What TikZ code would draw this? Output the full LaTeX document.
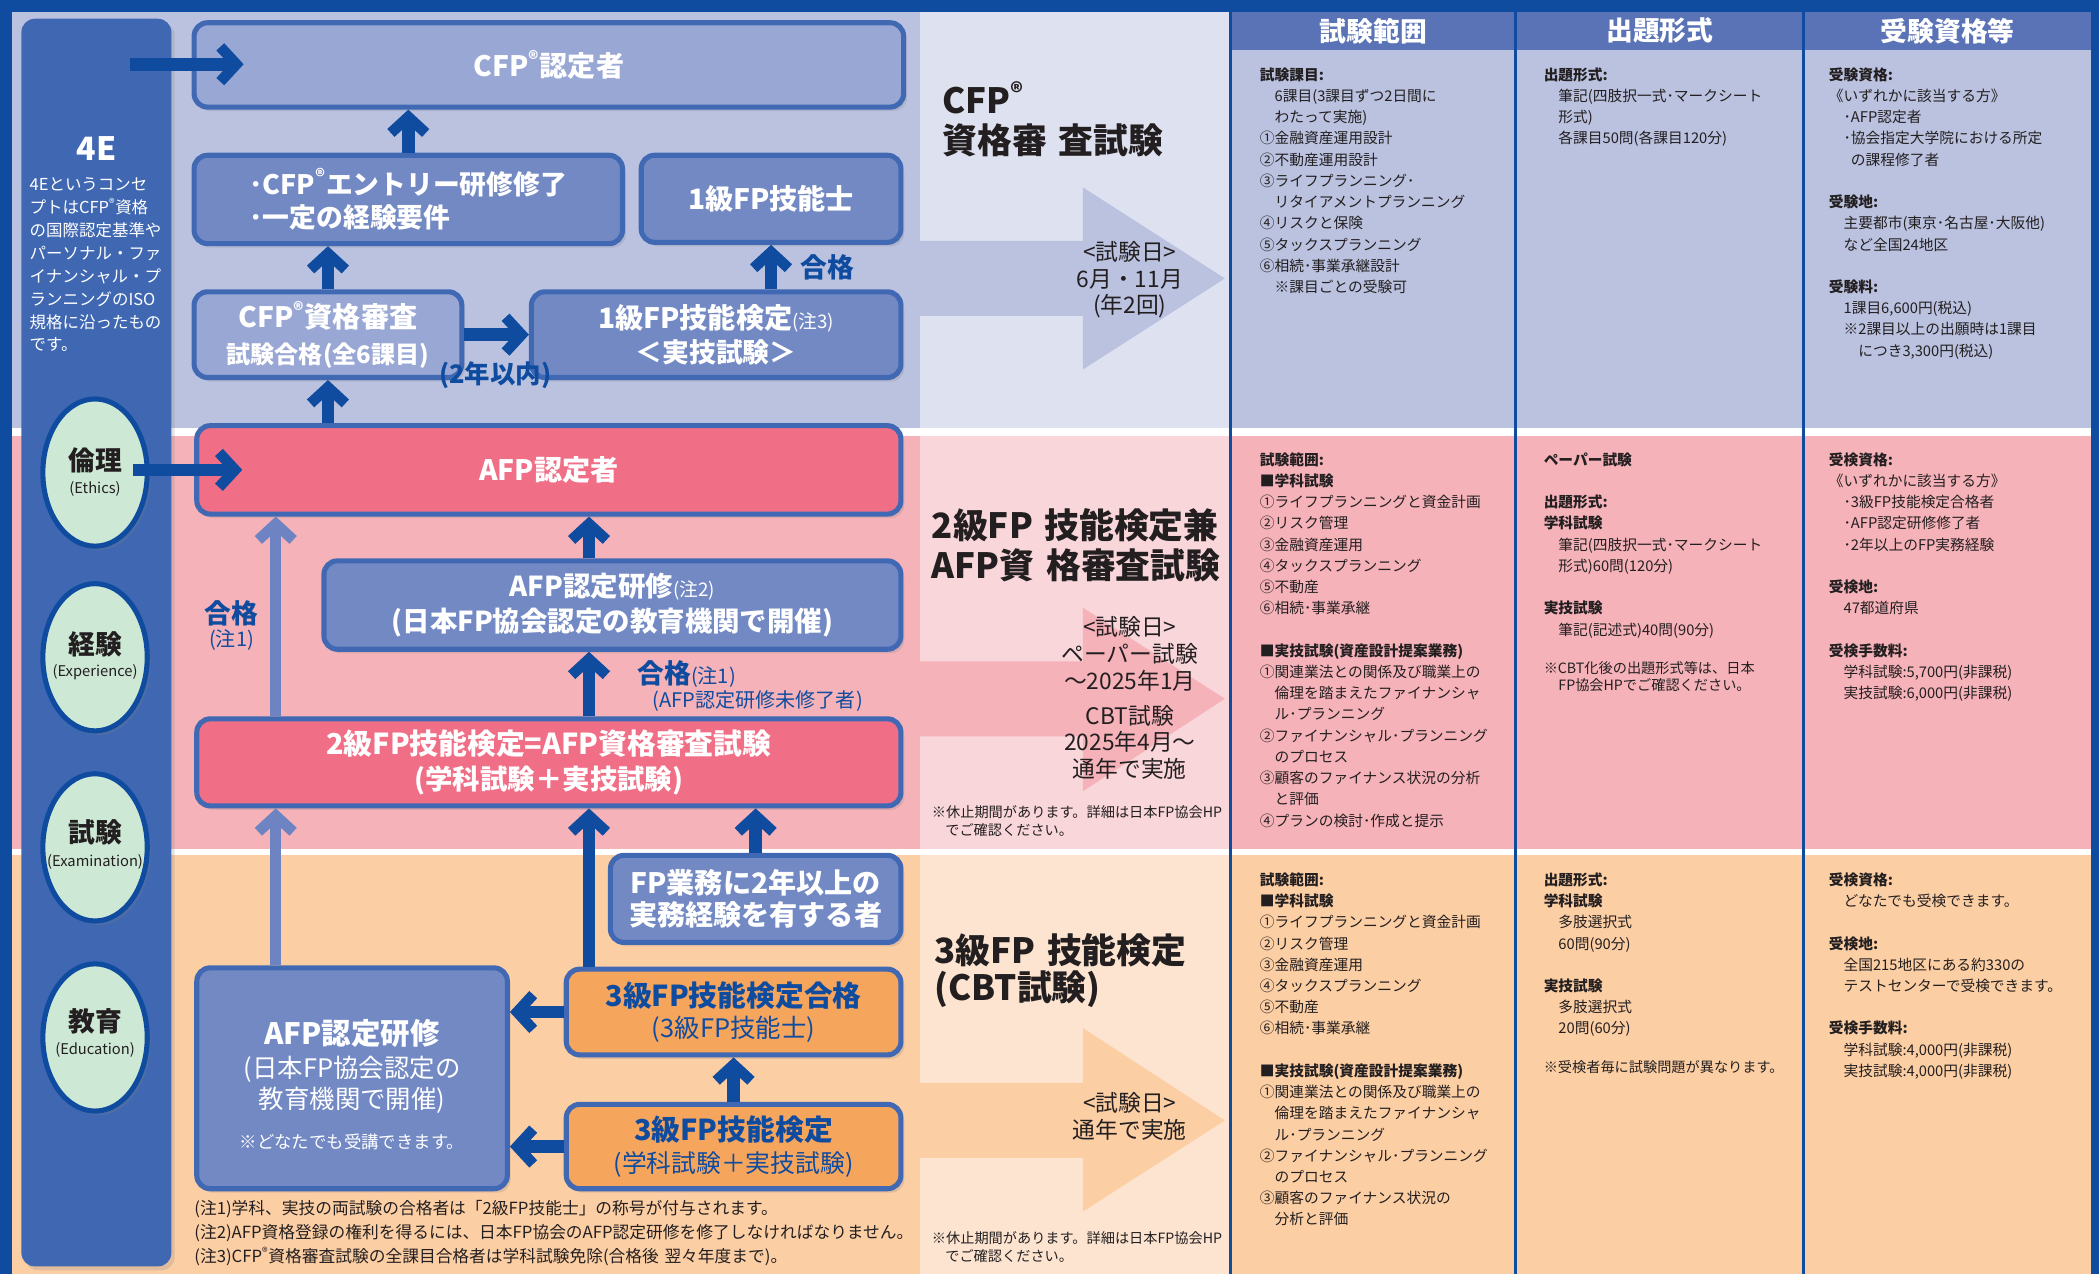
\documentclass[tikz,border=0pt]{standalone}
\usepackage{fontspec}
\setmainfont{Noto Sans CJK JP}
\usetikzlibrary{arrows.meta,shadows,shapes.geometric}
\definecolor{dkblue}{HTML}{0F4C9F}
\definecolor{panelc}{HTML}{4068B2}
\definecolor{bdrc}{HTML}{4169B3}
\definecolor{hdrc}{HTML}{5A72B6}
\definecolor{bandB}{HTML}{BAC2E0}
\definecolor{colB}{HTML}{DEE1F0}
\definecolor{boxL}{HTML}{99A7D5}
\definecolor{boxD}{HTML}{7389C4}
\definecolor{bandP}{HTML}{F5B2B9}
\definecolor{colP}{HTML}{F9D6DA}
\definecolor{boxP}{HTML}{F06F87}
\definecolor{bandO}{HTML}{FCCEA4}
\definecolor{colO}{HTML}{FDE4D1}
\definecolor{boxO}{HTML}{F6A55C}
\definecolor{mint}{HTML}{CDE8D5}
\definecolor{ltarr}{HTML}{6E84C2}
\definecolor{txtc}{HTML}{231F20}
\newcommand\fs[2]{\fontsize{#1}{#2}\selectfont}
\newcommand\sreg{\textsuperscript{®}}
\newcommand\myind{\hspace*{11pt}}
\begin{document}
\begin{tikzpicture}[x=1pt,y=-1pt,
  shd/.style={drop shadow={opacity=0.22,shadow xshift=2.5pt,shadow yshift=-3pt}},
  fbox/.style={rounded corners=10pt,line width=3.8pt,draw=bdrc,shd,inner sep=0pt,align=center,text=white},
  bL/.style={fbox,fill=boxL},
  bD/.style={fbox,fill=boxD},
  bP/.style={fbox,fill=boxP},
  bO/.style={fbox,fill=boxO,text=dkblue},
  darr/.style={draw=dkblue,line width=9.5pt,-{Straight Barb[length=12pt,width=26pt,line width=8pt]}},
  larr/.style={darr,draw=ltarr,line width=8.5pt},
  ell/.style={ellipse,draw=dkblue,line width=3.8pt,fill=mint,minimum width=78pt,minimum height=110pt,inner sep=0pt,shd},
  tbl/.style={inner sep=0pt,anchor=base west,text width=215pt,align=left,text=txtc,font=\fs{11}{15.85}},
  tnote/.style={inner sep=0pt,anchor=base west,text width=230pt,align=left,text=txtc,font=\fs{10.6}{13}},
  ttl/.style={inner sep=0pt,anchor=base west,text width=225pt,align=left,text=txtc,font=\fs{26}{30}\bfseries},
  dates/.style={inner sep=0pt,align=center,text=txtc,font=\fs{17}{20}},
  hdr/.style={inner sep=0pt,text=white,font=\fs{20}{20}\bfseries},
  lbl/.style={inner sep=0pt,text=dkblue,font=\fs{20}{20}\bfseries},
  etxt/.style={inner sep=0pt,text=txtc,font=\fs{20}{20}\bfseries},
  esub/.style={inner sep=0pt,text=txtc,font=\fs{11}{11}}
]
\useasboundingbox (0,0) rectangle (1568,952);
\fill[white] (0,0) rectangle (1568,952);
% bands
\fill[bandB] (9,9) rectangle (1562,320);
\fill[colB] (687,9) rectangle (918,320);
\fill[white] (9,320) rectangle (1562,326);
\fill[bandP] (9,326) rectangle (1562,634);
\fill[colP] (687,326) rectangle (918,634);
\fill[white] (9,634) rectangle (1562,639);
\fill[bandO] (9,639) rectangle (1562,952);
\fill[colO] (687,639) rectangle (918,952);
% big background arrows
\fill[bandB] (687,180) -- (809,180) -- (809,140) -- (915,208) -- (809,276) -- (809,236) -- (687,236) -- cycle;
\fill[bandP] (687,494) -- (809,494) -- (809,454) -- (915,522) -- (809,591) -- (809,550) -- (687,550) -- cycle;
\fill[bandO] (687,809) -- (809,809) -- (809,768) -- (915,837) -- (809,905) -- (809,865) -- (687,865) -- cycle;
% table header
\fill[hdrc] (920,9) rectangle (1562,37);
% frame and column lines
\fill[dkblue] (918,9) rectangle (920,952);
\fill[dkblue] (1131,9) rectangle (1133,952);
\fill[dkblue] (1346,9) rectangle (1348,952);
\fill[dkblue] (0,0) rectangle (1568,9);
\fill[dkblue] (0,0) rectangle (9,952);
\fill[dkblue] (1562,0) rectangle (1568,952);
\node[hdr] (h1) at (1026,23) {試験範囲};
\node[hdr] (h2) at (1240,23) {出題形式};
\node[hdr] (h3) at (1455,23) {受験資格等};

% 4E panel
\node[fill=panelc,rounded corners=10pt,minimum width=112pt,minimum height=932pt,inner sep=0pt,shd] (fourE) at (72,480) {};
\node[inner sep=0pt,text=white,font=\fs{24}{24}\bfseries] (fourEt) at (72,111) {4E};
\node[inner sep=0pt,anchor=base west,text width=110pt,align=left,text=white,font=\fs{12.3}{17.1}] (fourEb) at (22,142.5)
 {4Eというコンセ\\プトはCFP\sreg 資格\\の国際認定基準や\\パーソナル・ファ\\イナンシャル・プ\\ランニングのISO\\規格に沿ったもの\\です。};
% ellipses
\node[ell] (eEth) at (71,353) {};
\node[ell] (eExp) at (71,491) {};
\node[ell] (eExam) at (71,633) {};
\node[ell] (eEdu) at (71,775) {};
\node[etxt] (tEth) at (71,344) {倫理};
\node[esub] (sEth) at (71,365) {(Ethics)};
\node[etxt] (tExp) at (71,481) {経験};
\node[esub] (sExp) at (71,502) {(Experience)};
\node[etxt] (tExam) at (71,622) {試験};
\node[esub] (sExam) at (71,644) {(Examination)};
\node[etxt] (tEdu) at (71,763) {教育};
\node[esub] (sEdu) at (71,784) {(Education)};

% boxes
\node[bL,minimum width=530pt,minimum height=63pt] (cfp) at (410,48.5) {\fs{21}{24}\bfseries CFP\sreg 認定者};
\node[bD,minimum width=320pt,minimum height=66pt,align=left,font=\fs{20}{25}] (entry) at (305,149) {\bfseries ･CFP\sreg エントリー研修修了\\\bfseries ･一定の経験要件};
\node[bD,minimum width=194pt,minimum height=65pt] (fp1) at (576,148.5) {\fs{21}{24}\bfseries 1級FP技能士};
\node[bL,minimum width=200pt,minimum height=64pt,font=\fs{20}{27}] (cfpexam) at (245,250) {\fs{21}{27}\bfseries CFP\sreg 資格審査\\\fs{18}{27}\bfseries 試験合格(全6課目)};
\node[bD,minimum width=276pt,minimum height=64pt,font=\fs{20}{26}] (fp1exam) at (535,250) {\fs{21}{26}\bfseries 1級FP技能検定\mdseries\fs{14}{26}(注3)\\\fs{20}{26}\bfseries ＜実技試験＞};
\node[bP,minimum width=526pt,minimum height=66pt] (afp) at (410,351) {\fs{21}{24}\bfseries AFP認定者};
\node[bD,minimum width=431pt,minimum height=66pt,font=\fs{20}{26}] (afptrain) at (457.5,452) {\fs{20.5}{26}\bfseries AFP認定研修\mdseries\fs{14}{26}(注2)\\\fs{20.5}{26}\bfseries (日本FP協会認定の教育機関で開催)};
\node[bP,minimum width=526pt,minimum height=65pt,font=\fs{21}{26}] (fp2) at (410,569.5) {\fs{21.5}{26}\bfseries 2級FP技能検定=AFP資格審査試験\\\fs{20.5}{26}\bfseries (学科試験＋実技試験)};
\node[bD,minimum width=217pt,minimum height=65pt,font=\fs{21}{24}] (fpexp) at (564.5,671.5) {\fs{21}{24}\bfseries FP業務に2年以上の\\\fs{21}{24}\bfseries 実務経験を有する者};
\node[bD,minimum width=232pt,minimum height=165pt] (afpbig) at (263,805.5) {};
\node[inner sep=0pt,text=white,align=center,font=\fs{19}{23}] (afpbigt) at (263,810) {\fs{22}{23}\bfseries AFP認定研修\\[2pt]\fs{19}{23}(日本FP協会認定の\\\fs{19}{23}教育機関で開催)\\[7pt]\fs{13}{23}※どなたでも受講できます。};
\node[bO,minimum width=250pt,minimum height=64pt,font=\fs{21}{23}] (fp3pass) at (548,756) {\fs{21.5}{23}\bfseries 3級FP技能検定合格\\\fs{19}{23}(3級FP技能士)};
\node[bO,minimum width=250pt,minimum height=63pt,font=\fs{21}{24}] (fp3) at (548,856.5) {\fs{21.5}{24}\bfseries 3級FP技能検定\\\fs{18.5}{24}(学科試験＋実技試験)};

% connectors
\coordinate (lx) at (206,0);
\coordinate (dx) at (440,0);
\coordinate (a1s) at (97,48);
\coordinate (a1e) at (182,48);
\coordinate (a2s) at (99,351);
\coordinate (a2e) at (181,351);
\draw[darr] (a1s) -- (a1e);
\draw[darr] (a2s) -- (a2e);
\draw[darr] (entry.north) -- (entry.north |- cfp.south);
\draw[darr] (cfpexam.north) -- (cfpexam.north |- entry.south);
\draw[darr] (fp1.south |- fp1exam.north) -- (fp1.south);
\draw[darr] (cfpexam.east) -- (fp1exam.west);
\draw[darr] (afp.north -| cfpexam) -- (cfpexam.south);
\draw[larr] (fp2.north -| lx) -- (afp.south -| lx);
\draw[darr] (fp2.north -| dx) -- (afptrain.south -| dx);
\draw[darr] (afptrain.north -| dx) -- (afp.south -| dx);
\draw[larr] (afpbig.north -| lx) -- (fp2.south -| lx);
\draw[darr] (fp3pass.north -| dx) -- (fp2.south -| dx);
\draw[darr] (fpexp.north) -- (fpexp.north |- fp2.south);
\draw[darr] (fp3.north) -- (fp3pass.south);
\draw[darr] (fp3pass.west) -- (fp3pass.west -| afpbig.east);
\draw[darr] (fp3.west) -- (fp3.west -| afpbig.east);

% labels
\node[lbl] (gk1) at (618,200) {合格};
\node[lbl,font=\fs{19}{19}\bfseries] (yr2) at (370,280) {(2年以内)};
\node[lbl] (gk2) at (173,458) {合格};
\node[lbl,font=\fs{15}{15}] (gk2n) at (173,478) {(注1)};
\node[lbl,anchor=base west] (gk3) at (476,510.6) {\bfseries\fs{20}{20}合格\mdseries\fs{15}{15}(注1)};
\node[lbl,font=\fs{15}{15}] (gk3n) at (566,524) {(AFP認定研修未修了者)};

% middle column
\node[ttl] (tCFP) at (704,84.5) {CFP\sreg\\資格審 査試験};
\node[dates] (dCFP) at (844,209) {<試験日>\\6月・11月\\(年2回)};
\node[ttl] (tAFP) at (696,402.5) {2級FP 技能検定兼\\AFP資 格審査試験};
\node[dates] (dAFP) at (844,521.5) {<試験日>\\ペーパー試験\\～2025年1月\\[6pt]CBT試験\\2025年4月～\\通年で実施};
\node[tnote] (nAFP) at (696,611) {※休止期間があります。詳細は日本FP協会HP\\\hspace*{10pt}でご確認ください。};
\node[ttl,font=\fs{26}{28}\bfseries] (t3) at (698,719.5) {3級FP 技能検定\\(CBT試験)};
\node[dates] (d3) at (844,834) {<試験日>\\通年で実施};
\node[tnote] (n3) at (696,929) {※休止期間があります。詳細は日本FP協会HP\\\hspace*{10pt}でご確認ください。};

% footnotes
\node[inner sep=0pt,anchor=base west,text width=560pt,align=left,text=txtc,font=\fs{12.5}{18}] (notes) at (145,907)
 {(注1)学科、実技の両試験の合格者は「2級FP技能士」の称号が付与されます。\\(注2)AFP資格登録の権利を得るには、日本FP協会のAFP認定研修を修了しなければなりません。\\(注3)CFP\sreg 資格審査試験の全課目合格者は学科試験免除(合格後 翌々年度まで)。};

% table: CFP band
\node[tbl] (b1) at (941,60) {\textbf{試験課目:}\\
\myind 6課目(3課目ずつ2日間に\\
\myind わたって実施)\\
①金融資産運用設計\\
②不動産運用設計\\
③ライフプランニング･\\
\myind リタイアメントプランニング\\
④リスクと保険\\
⑤タックスプランニング\\
⑥相続･事業承継設計\\
\myind ※課目ごとの受験可};
\node[tbl] (b2) at (1153,60) {\textbf{出題形式:}\\
\myind 筆記(四肢択一式･マークシート\\
\myind 形式)\\
\myind 各課目50問(各課目120分)};
\node[tbl] (b3) at (1366,60) {\textbf{受験資格:}\\
《いずれかに該当する方》\\
\myind ･AFP認定者\\
\myind ･協会指定大学院における所定\\
\myind\hspace*{5.5pt}の課程修了者\\[15.85pt]
\textbf{受験地:}\\
\myind 主要都市(東京･名古屋･大阪他)\\
\myind など全国24地区\\[15.85pt]
\textbf{受験料:}\\
\myind 1課目6,600円(税込)\\
\myind ※2課目以上の出願時は1課目\\
\myind\hspace*{11pt}につき3,300円(税込)};

% table: AFP band
\node[tbl] (p1) at (941,347.6) {\textbf{試験範囲:}\\
\textbf{■学科試験}\\
①ライフプランニングと資金計画\\
②リスク管理\\
③金融資産運用\\
④タックスプランニング\\
⑤不動産\\
⑥相続･事業承継\\[15.85pt]
\textbf{■実技試験(資産設計提案業務)}\\
①関連業法との関係及び職業上の\\
\myind 倫理を踏まえたファイナンシャ\\
\myind ル･プランニング\\
②ファイナンシャル･プランニング\\
\myind のプロセス\\
③顧客のファイナンス状況の分析\\
\myind と評価\\
④プランの検討･作成と提示};
\node[tbl] (p2) at (1153,347.6) {\textbf{ペーパー試験}\\[15.85pt]
\textbf{出題形式:}\\
\textbf{学科試験}\\
\myind 筆記(四肢択一式･マークシート\\
\myind 形式)60問(120分)\\[15.85pt]
\textbf{実技試験}\\
\myind 筆記(記述式)40問(90分)};
\node[tnote] (p2n) at (1153,503) {※CBT化後の出題形式等は、日本\\\myind FP協会HPでご確認ください。};
\node[tbl] (p3) at (1366,347.6) {\textbf{受検資格:}\\
《いずれかに該当する方》\\
\myind ･3級FP技能検定合格者\\
\myind ･AFP認定研修修了者\\
\myind ･2年以上のFP実務経験\\[15.85pt]
\textbf{受検地:}\\
\myind 47都道府県\\[15.85pt]
\textbf{受検手数料:}\\
\myind 学科試験:5,700円(非課税)\\
\myind 実技試験:6,000円(非課税)};

% table: 3rd grade band
\node[tbl] (o1) at (941,661.4) {\textbf{試験範囲:}\\
\textbf{■学科試験}\\
①ライフプランニングと資金計画\\
②リスク管理\\
③金融資産運用\\
④タックスプランニング\\
⑤不動産\\
⑥相続･事業承継\\[15.85pt]
\textbf{■実技試験(資産設計提案業務)}\\
①関連業法との関係及び職業上の\\
\myind 倫理を踏まえたファイナンシャ\\
\myind ル･プランニング\\
②ファイナンシャル･プランニング\\
\myind のプロセス\\
③顧客のファイナンス状況の\\
\myind 分析と評価};
\node[tbl] (o2) at (1153,661.4) {\textbf{出題形式:}\\
\textbf{学科試験}\\
\myind 多肢選択式\\
\myind 60問(90分)\\[15.85pt]
\textbf{実技試験}\\
\myind 多肢選択式\\
\myind 20問(60分)};
\node[tnote] (o2n) at (1153,801) {※受検者毎に試験問題が異なります。};
\node[tbl] (o3) at (1366,661.4) {\textbf{受検資格:}\\
\myind どなたでも受検できます。\\[15.85pt]
\textbf{受検地:}\\
\myind 全国215地区にある約330の\\
\myind テストセンターで受検できます。\\[15.85pt]
\textbf{受検手数料:}\\
\myind 学科試験:4,000円(非課税)\\
\myind 実技試験:4,000円(非課税)};
\end{tikzpicture}
\end{document}
